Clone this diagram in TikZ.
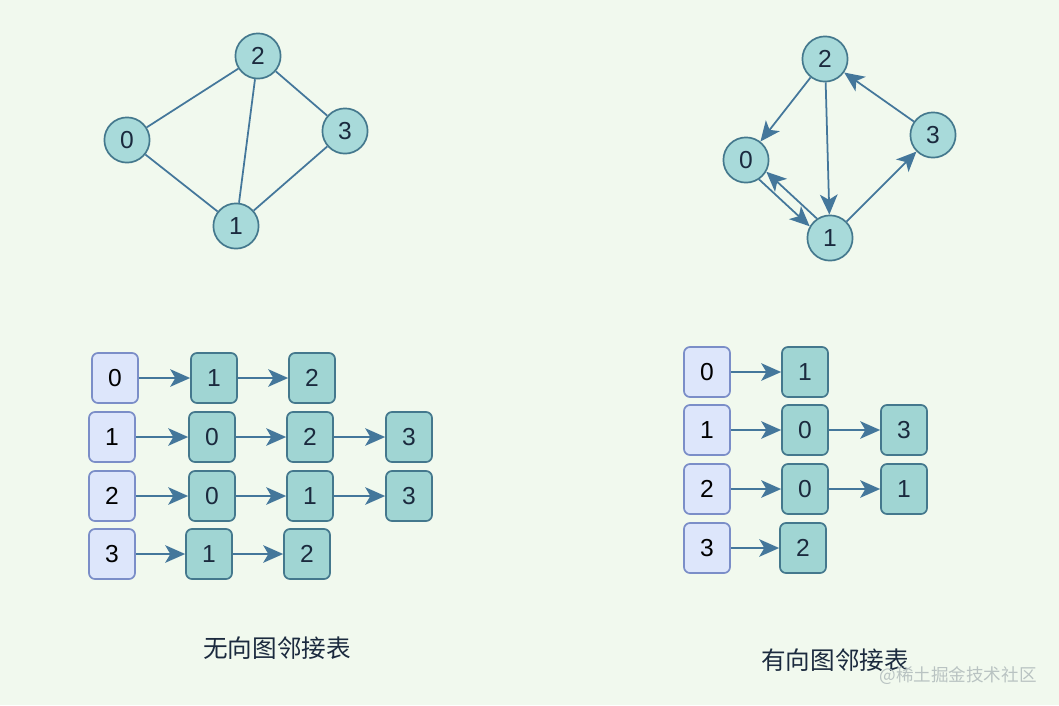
\documentclass[tikz,border=0pt]{standalone}
\usepackage{fontspec}
\setmainfont{Liberation Sans}
\newfontfamily\cjk{Noto Sans CJK SC}
\usetikzlibrary{arrows.meta}

\definecolor{bgcol}{HTML}{F1F9EE}
\definecolor{vfill}{HTML}{A8DADA}
\definecolor{cfill}{HTML}{A0D5D3}
\definecolor{cline}{HTML}{44788D}
\definecolor{hfill}{HTML}{DDE6FB}
\definecolor{hline}{HTML}{7B8EC8}
\definecolor{arcol}{HTML}{44779B}
\definecolor{txt}{HTML}{1B2A3E}
\definecolor{wmark}{HTML}{B9C3C2}

\tikzset{
  vert/.style={circle, draw=cline, fill=vfill, line width=1.2pt, minimum size=1.13cm, inner sep=0pt, text=txt, font=\fontsize{17.5}{20}\selectfont},
  headbox/.style={rectangle, rounded corners=0.15cm, draw=hline, fill=hfill, line width=1.2pt, minimum width=1.15cm, minimum height=1.25cm, inner sep=0pt, text=black, font=\fontsize{17.5}{20}\selectfont},
  cellbox/.style={headbox, draw=cline, fill=cfill, text=txt},
  edge/.style={draw=arcol, line width=1.25pt},
  arc/.style={edge, -{Stealth[length=0.5cm, width=0.44cm, inset=0.13cm]}},
  title/.style={text=txt, font=\cjk\fontsize{17.5}{20}\selectfont}
}

\begin{document}
\begin{tikzpicture}[x=0.025cm, y=-0.025cm]
  \fill[bgcol] (0,0) rectangle (1059,705);

  % undirected graph
  \foreach \n/\x/\y in {0/127/140, 2/258/56, 3/345/131, 1/236/226}
    \node[vert] (u\n) at (\x,\y) {\n};
  \foreach \a/\b in {0/2, 0/1, 2/1, 2/3, 3/1}
    \draw[edge] (u\a) -- (u\b);

  % directed graph
  \foreach \n/\x/\y in {2/825/59, 0/746/160, 3/933/135, 1/830/238}
    \node[vert] (d\n) at (\x,\y) {\n};
  \foreach \a/\b in {2/0, 2/1, 3/2, 1/3}
    \draw[arc] (d\a) -- (d\b);
  \draw[arc] (d0.-56) -- (d1.150);
  \draw[arc] (d1.124) -- (d0.-30);

  % undirected adjacency list
  \foreach \r/\x/\y in {0/115/378, 1/112/437, 2/112/496, 3/112/554}
    \node[headbox] (lh\r) at (\x,\y) {\r};
  \foreach \c/\x/\y/\v in {a1/214/378/1, a2/312/378/2,
                           b1/212/437/0, b2/310/437/2, b3/409/437/3,
                           c1/212/496/0, c2/310/496/1, c3/409/496/3,
                           d1/209/554/1, d2/307/554/2}
    \node[cellbox] (l\c) at (\x,\y) {\v};
  \foreach \a/\b in {lh0/la1, la1/la2, lh1/lb1, lb1/lb2, lb2/lb3,
                     lh2/lc1, lc1/lc2, lc2/lc3, lh3/ld1, ld1/ld2}
    \draw[arc] (\a) -- (\b);

  % directed adjacency list
  \foreach \r/\y in {0/372, 1/430, 2/489, 3/548}
    \node[headbox] (rh\r) at (707,\y) {\r};
  \foreach \c/\x/\y/\v in {a1/805/372/1,
                           b1/805/430/0, b2/904/430/3,
                           c1/805/489/0, c2/904/489/1,
                           d1/803/548/2}
    \node[cellbox] (r\c) at (\x,\y) {\v};
  \foreach \a/\b in {rh0/ra1, rh1/rb1, rb1/rb2, rh2/rc1, rc1/rc2, rh3/rd1}
    \draw[arc] (\a) -- (\b);

  \node[title] (ltitle) at (277,648) {无向图邻接表};
  \node[title] (rtitle) at (835,660) {有向图邻接表};
  \node[text=wmark, font=\cjk\fontsize{12.5}{14}\selectfont] (mark) at (958,676) {@稀土掘金技术社区};
\end{tikzpicture}
\end{document}
